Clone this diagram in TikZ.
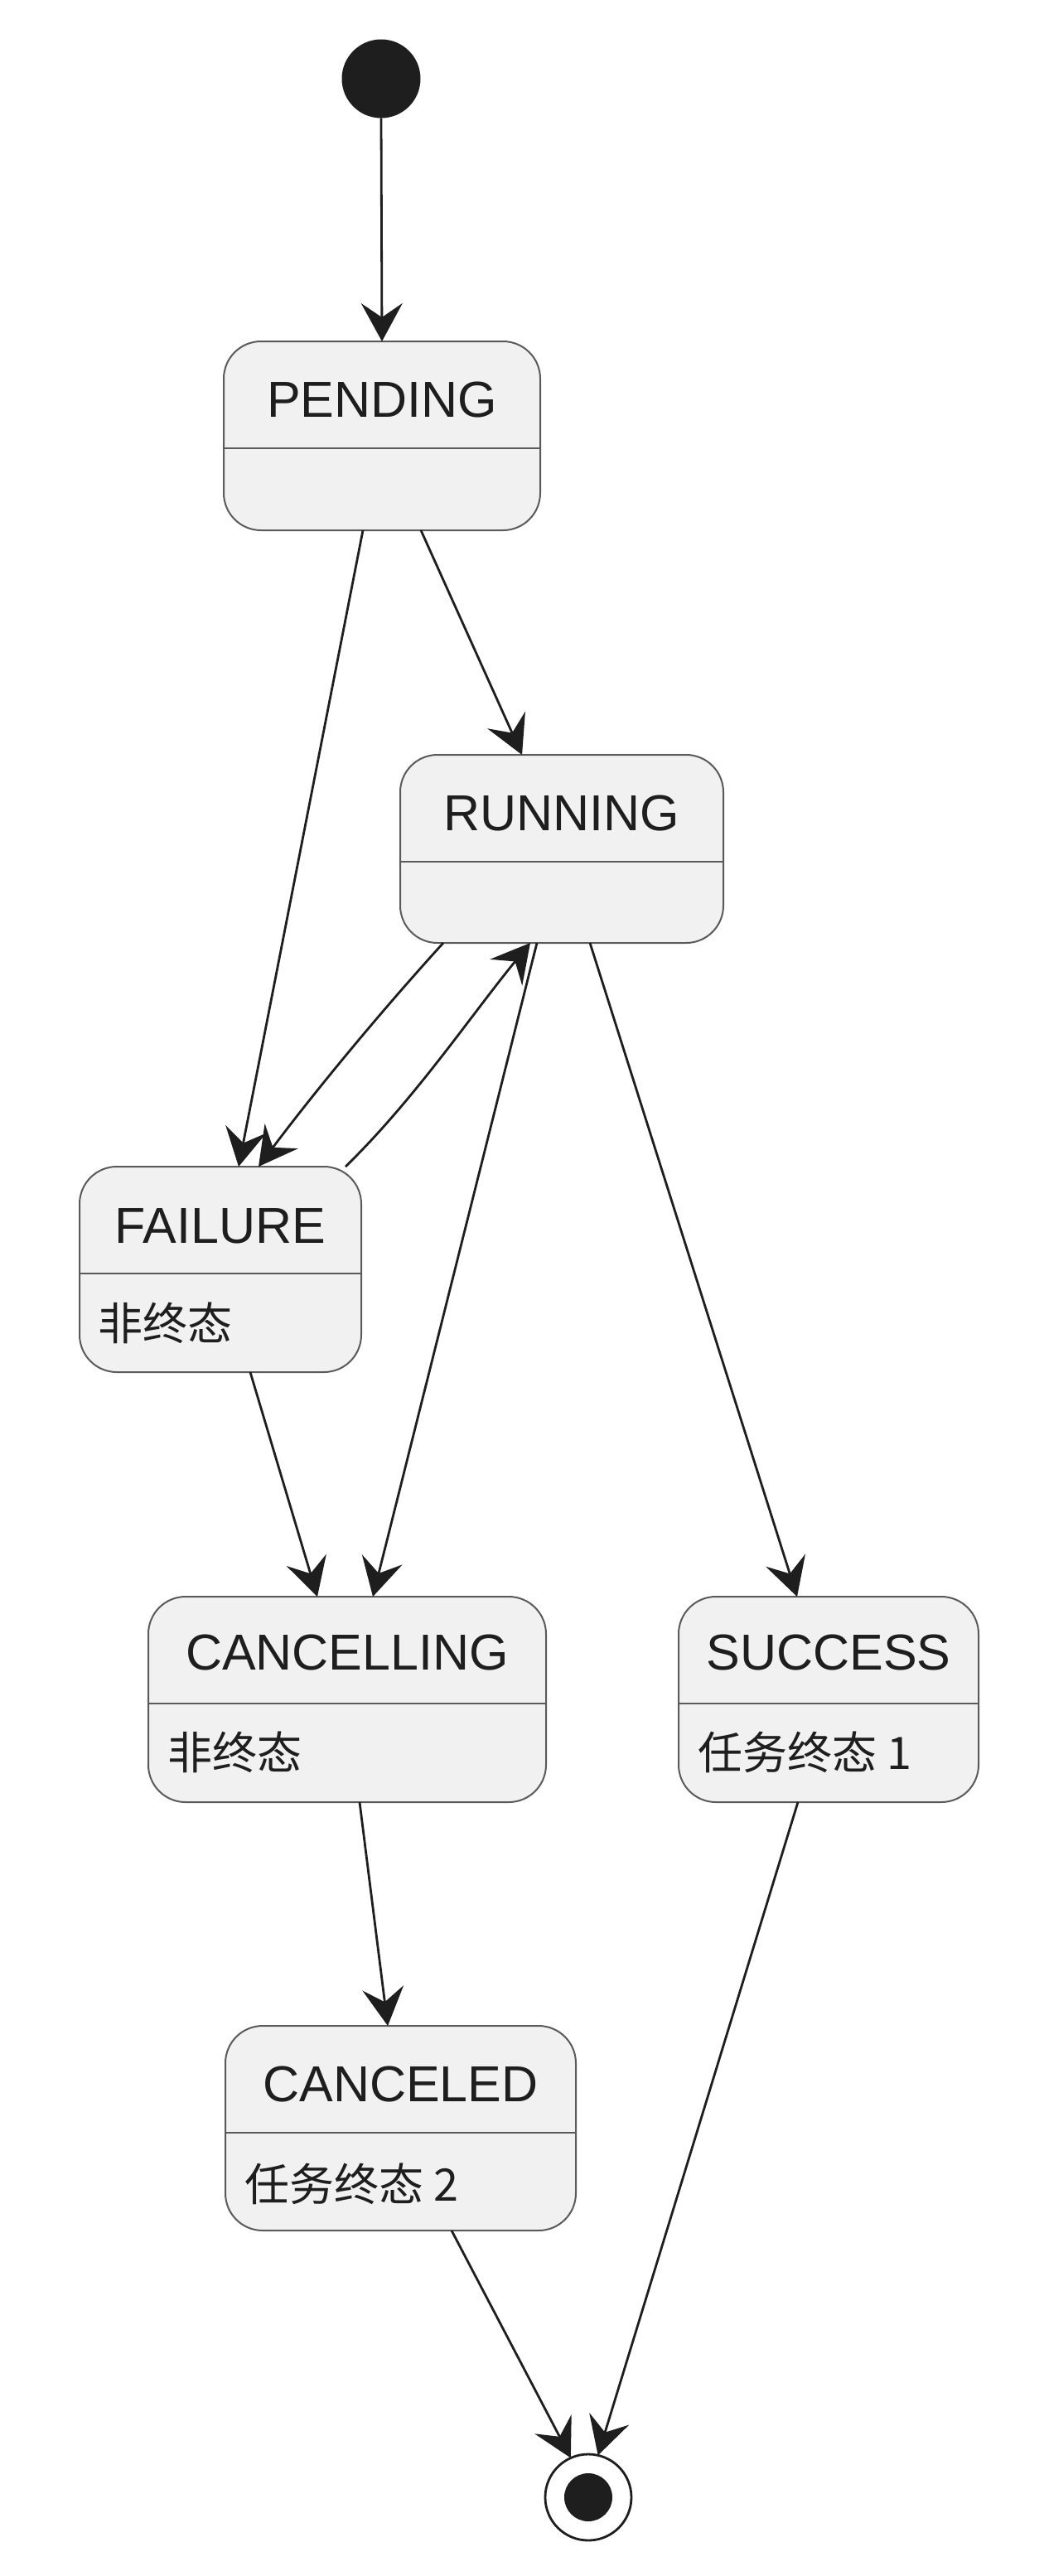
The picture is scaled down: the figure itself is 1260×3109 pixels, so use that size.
\documentclass[tikz,border=0pt]{standalone}
\usepackage{fontspec}
\setmainfont{Liberation Sans}
\newfontfamily\cjk{Noto Sans CJK SC}
\usetikzlibrary{arrows.meta}
\definecolor{boxfill}{HTML}{F1F1F1}
\definecolor{boxline}{HTML}{5A5A5A}
\definecolor{ink}{HTML}{1E1E1E}
\begin{document}
\begin{tikzpicture}[x=1pt,y=-1pt,
  statebox/.style={rectangle, draw=boxline, fill=boxfill, line width=2pt, rounded corners=45pt, inner sep=0pt, outer sep=0pt},
  titletext/.style={font=\fontsize{61}{70}\selectfont, inner sep=0pt, anchor=base, text=ink},
  bodytext/.style={font=\cjk\fontsize{54}{62}\selectfont, inner sep=0pt, anchor=base west, text=ink},
  divider/.style={draw=boxline, line width=2pt},
  arr/.style={draw=ink, line width=2.8pt, -{Stealth[length=46pt,width=50pt,inset=17pt]}},
  dot/.style={circle, fill=ink, inner sep=0pt, outer sep=0pt}
]
\fill[white] (0,0) rectangle (1260,3109);
\useasboundingbox (0,0) rectangle (1260,3109);

% start
\node[dot, minimum size=95pt] (start) at (460,95) {};

% states
\node[statebox, minimum width=382pt, minimum height=228pt] (pending) at (461,526) {};
\draw[divider] ([yshift=-129pt]pending.north west) -- ([yshift=-129pt]pending.north east);
\node[titletext] (pendingt) at (461,503) {PENDING};

\node[statebox, minimum width=390pt, minimum height=227pt] (running) at (678,1024.5) {};
\draw[divider] ([yshift=-129pt]running.north west) -- ([yshift=-129pt]running.north east);
\node[titletext] (runningt) at (678,1002) {RUNNING};

\node[statebox, minimum width=340pt, minimum height=248pt] (failure) at (266,1532) {};
\draw[divider] ([yshift=-129pt]failure.north west) -- ([yshift=-129pt]failure.north east);
\node[titletext] (failuret) at (266,1500) {FAILURE};
\node[bodytext] (failureb) at (118,1617) {非终态};

\node[statebox, minimum width=480pt, minimum height=248pt] (cancelling) at (419,2051) {};
\draw[divider] ([yshift=-129pt]cancelling.north west) -- ([yshift=-129pt]cancelling.north east);
\node[titletext] (cancellingt) at (419,2015) {CANCELLING};
\node[bodytext] (cancellingb) at (202,2135) {非终态};

\node[statebox, minimum width=362pt, minimum height=248pt] (success) at (1000,2051) {};
\draw[divider] ([yshift=-129pt]success.north west) -- ([yshift=-129pt]success.north east);
\node[titletext] (successt) at (1000,2015) {SUCCESS};
\node[bodytext] (successb) at (842,2135) {任务终态 1};

\node[statebox, minimum width=423pt, minimum height=247pt] (canceled) at (483.5,2568.5) {};
\draw[divider] ([yshift=-129pt]canceled.north west) -- ([yshift=-129pt]canceled.north east);
\node[titletext] (canceledt) at (483.5,2536) {CANCELED};
\node[bodytext] (canceledb) at (295,2656) {任务终态 2};

% end
\node[circle, draw=ink, fill=white, line width=2.8pt, minimum size=104pt, inner sep=0pt, outer sep=0pt] (endc) at (710,3014) {};
\node[dot, minimum size=58pt] (endin) at (endc) {};

% transitions
\draw[arr] (start.south) -- (pending.north);
\draw[arr] ([xshift=47pt]pending.south) -- ([xshift=-48pt]running.north);
\draw[arr] ([xshift=-23pt]pending.south) -- ([xshift=22pt]failure.north);
\draw[arr] ([xshift=-143pt]running.south) .. controls +(-80,88) and +(66,-88) .. ([xshift=46pt]failure.north);
\draw[arr] ([xshift=151pt]failure.north) .. controls +(84,-82) and +(-72,88) .. ([xshift=-38pt]running.south);
\draw[arr] ([xshift=-30pt]running.south) -- ([xshift=31pt]cancelling.north);
\draw[arr] ([xshift=34pt]running.south) -- ([xshift=-38pt]success.north);
\draw[arr] ([xshift=36pt]failure.south) -- ([xshift=-36pt]cancelling.north);
\draw[arr] ([xshift=15pt]cancelling.south) -- ([xshift=-15.5pt]canceled.north);
\draw[arr] ([xshift=61.5pt]canceled.south) -- (endc.114);
\draw[arr] ([xshift=-37pt]success.south) -- (endc.77);
\end{tikzpicture}
\end{document}
